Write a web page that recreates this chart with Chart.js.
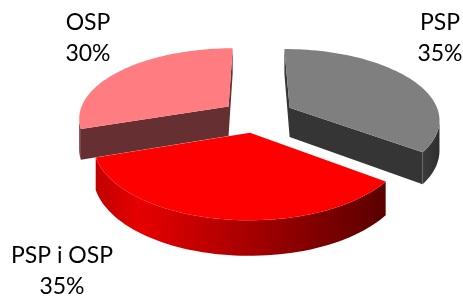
<!DOCTYPE html>
<html>
<head>
<meta charset="utf-8">
<script src="https://cdn.jsdelivr.net/npm/chart.js@4"></script>
<style>
  html, body { margin: 0; background: #fff; }
  #wrap { width: 463px; height: 298px; }
</style>
</head>
<body>
<div id="wrap"><canvas id="wykres"></canvas></div>
<script>
// Dane
const kategorie = ['PSP', 'PSP i OSP', 'OSP'];
const udzialy = [35, 35, 30];
const koloryGora = ['#7f7f7f', '#ff0000', '#ff7c80'];
const koloryBok = ['#353535', '#5a0000', '#663033'];
const wysuniecie = [39, 34, 34];

// Etykiety (pozycje środka tekstu)
const pozycjeEtykiet = [[440, 23], [62, 256], [88, 23]];

// parametry "3D"
const K = 0.48;   // spłaszczenie
const D = 1000;   // perspektywa
const H = 30;     // grubość

function rzut(cx, cy, px, py, dol) {
    const s = 1 + py / D;
    return { x: cx + px * s, y: cy + py * K * s + (dol ? H * s : 0) };
}

function pole(pts) {
    let a = 0;
    for (let i = 0; i < pts.length; i++) {
        const p = pts[i], q = pts[(i + 1) % pts.length];
        a += p.x * q.y - q.x * p.y;
    }
    return a;
}

const pie3d = {
    id: 'pie3d',
    beforeDatasetsDraw(chart) {
        const ctx = chart.ctx;
        const meta = chart.getDatasetMeta(0);
        const kawalki = meta.data.map((el, i) => {
            const mid = (el.startAngle + el.endAngle) / 2;
            return { el, i, mid };
        });
        // od tyłu do przodu
        kawalki.sort((a, b) => Math.sin(a.mid) - Math.sin(b.mid));

        kawalki.forEach(({ el, i, mid }) => {
            const cx = el.x, cy = el.y, R = el.outerRadius;
            const off = el.options.offset;
            const ox = Math.cos(mid) * off, oy = Math.sin(mid) * off;
            const n = 60;
            const pts = [{ x: ox, y: oy, arc: false }];
            for (let k = 0; k <= n; k++) {
                const a = el.startAngle + (el.endAngle - el.startAngle) * k / n;
                pts.push({ x: ox + R * Math.cos(a), y: oy + R * Math.sin(a), arc: true });
            }

            // ściany boczne
            const sciana = new Path2D();
            const promien = new Path2D();
            let minX = Infinity, maxX = -Infinity;
            for (let k = 0; k < pts.length; k++) {
                const p = pts[k], q = pts[(k + 1) % pts.length];
                const quad = [
                    rzut(cx, cy, p.x, p.y, false), rzut(cx, cy, q.x, q.y, false),
                    rzut(cx, cy, q.x, q.y, true), rzut(cx, cy, p.x, p.y, true)
                ];
                if (pole(quad) >= 0) continue;
                const path = (p.arc && q.arc) ? sciana : promien;
                path.moveTo(quad[0].x, quad[0].y);
                quad.slice(1).forEach(v => path.lineTo(v.x, v.y));
                path.closePath();
                if (p.arc && q.arc) {
                    minX = Math.min(minX, quad[0].x, quad[1].x);
                    maxX = Math.max(maxX, quad[0].x, quad[1].x);
                }
            }
            ctx.save();
            ctx.fillStyle = koloryBok[i];
            ctx.fill(promien);
            if (isFinite(minX)) {
                let styl = koloryBok[i];
                if (i === 1) {
                    const g = ctx.createLinearGradient(minX, 0, maxX, 0);
                    g.addColorStop(0, '#c00000');
                    g.addColorStop(0.15, '#e60000');
                    g.addColorStop(0.6, '#9a0000');
                    g.addColorStop(1, '#5a0000');
                    styl = g;
                } else if (i === 0) {
                    const g = ctx.createLinearGradient(minX, 0, maxX, 0);
                    g.addColorStop(0, '#3c3c3c');
                    g.addColorStop(1, '#2e2e2e');
                    styl = g;
                }
                ctx.fillStyle = styl;
                ctx.fill(sciana);
            }

            // góra
            ctx.beginPath();
            pts.forEach((p, k) => {
                const v = rzut(cx, cy, p.x, p.y, false);
                if (k === 0) ctx.moveTo(v.x, v.y); else ctx.lineTo(v.x, v.y);
            });
            ctx.closePath();
            ctx.fillStyle = koloryGora[i];
            ctx.fill();
            ctx.restore();
        });
        return false;
    },
    afterDraw(chart) {
        const ctx = chart.ctx;
        const suma = udzialy.reduce((a, b) => a + b, 0);
        ctx.save();
        ctx.font = '23px Lato';
        ctx.fillStyle = '#000';
        ctx.textAlign = 'center';
        ctx.textBaseline = 'middle';
        kategorie.forEach((nazwa, i) => {
            const [x, y] = pozycjeEtykiet[i];
            ctx.fillText(nazwa, x, y);
            ctx.fillText(Math.round(udzialy[i] / suma * 100) + '%', x, y + 31);
        });
        ctx.restore();
    }
};

const wykres = new Chart(document.getElementById('wykres'), {
    type: 'pie',
    data: {
        labels: kategorie,
        datasets: [{
            data: udzialy,
            backgroundColor: koloryGora,
            offset: wysuniecie,
            borderWidth: 0
        }]
    },
    options: {
        responsive: true,
        maintainAspectRatio: false,
        animation: false,
        radius: 150,
        layout: { padding: { left: 48, right: 0, top: 0, bottom: 66 } },
        plugins: {
            legend: { display: false },
            tooltip: { enabled: false }
        }
    },
    plugins: [pie3d]
});
</script>
</body>
</html>
